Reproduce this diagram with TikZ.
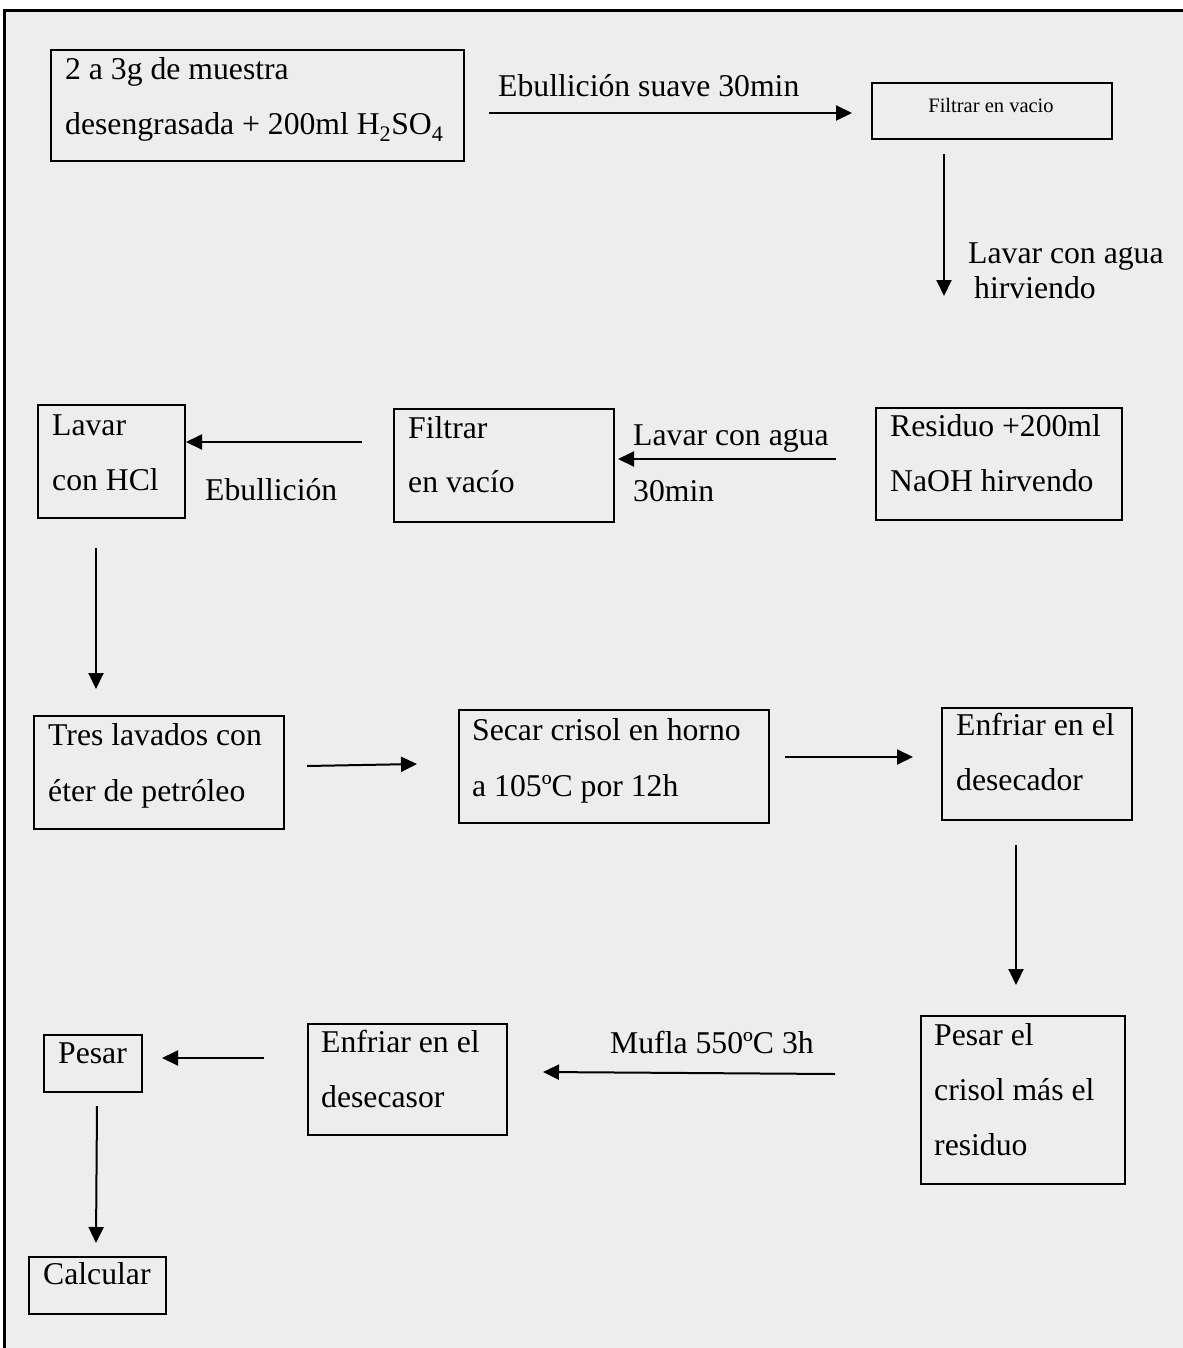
\documentclass[tikz,border=0pt]{standalone}
\usepackage{fontspec}
\setmainfont{Liberation Serif}
\usetikzlibrary{arrows.meta}
\definecolor{bg}{HTML}{EDEDED}
\tikzset{
  boxnode/.style={draw=black, line width=2pt, inner sep=0pt, anchor=north west},
  txt/.style={inner sep=0pt, anchor=base west, font=\fontsize{31.7}{38}\selectfont},
  smalltxt/.style={inner sep=0pt, anchor=base, font=\fontsize{20.5}{24}\selectfont},
  arr/.style={line width=2pt, -{Triangle[length=16pt,width=15pt]}}
}
\begin{document}
\begin{tikzpicture}[x=1pt,y=-1pt]
\useasboundingbox (0,0) rectangle (1182.8,1348);
\fill[white] (0,0) rectangle (1190,1348);
% frame (right and bottom edges lie outside the picture)
\fill[bg] (4.5,10.8) rectangle (1190,1348);
\draw[black, line width=2.8pt] (4.5,1348) -- (4.5,10.8) -- (1190,10.8);

% boxes
\node[boxnode, minimum width=413pt, minimum height=111pt] (b1) at (50,49) {};
\node[txt] (b1t1) at (65,80) {2 a 3g de muestra};
\node[txt] (b1t2) at (65,135) {desengrasada + 200ml H\textsubscript{2}SO\textsubscript{4}};

\node[boxnode, minimum width=240pt, minimum height=56pt] (b2) at (871,82) {};
\node[smalltxt] (b2t) at (991,113) {Filtrar en vacio};

\node[boxnode, minimum width=246pt, minimum height=112pt] (b3) at (875,407) {};
\node[txt] (b3t1) at (890,436) {Residuo +200ml};
\node[txt] (b3t2) at (890,491) {NaOH hirvendo};

\node[boxnode, minimum width=220pt, minimum height=113pt] (b4) at (393,408) {};
\node[txt] (b4t1) at (408,438) {Filtrar};
\node[txt] (b4t2) at (408,492) {en vacío};

\node[boxnode, minimum width=147pt, minimum height=113pt] (b5) at (37,404) {};
\node[txt] (b5t1) at (52,435) {Lavar};
\node[txt] (b5t2) at (52,490) {con HCl};

\node[boxnode, minimum width=250pt, minimum height=113pt] (b6) at (33,715) {};
\node[txt] (b6t1) at (48,745) {Tres lavados con};
\node[txt] (b6t2) at (48,801) {éter de petróleo};

\node[boxnode, minimum width=310pt, minimum height=113pt] (b7) at (458,709) {};
\node[txt] (b7t1) at (472,740) {Secar crisol en horno};
\node[txt] (b7t2) at (472,796) {a 105ºC por 12h};

\node[boxnode, minimum width=190pt, minimum height=112pt] (b8) at (941,707) {};
\node[txt] (b8t1) at (956,735) {Enfriar en el};
\node[txt] (b8t2) at (956,790) {desecador};

\node[boxnode, minimum width=204pt, minimum height=168pt] (b9) at (920,1015) {};
\node[txt] (b9t1) at (934,1045) {Pesar el};
\node[txt] (b9t2) at (934,1100) {crisol más el};
\node[txt] (b9t3) at (934,1155) {residuo};

\node[boxnode, minimum width=199pt, minimum height=111pt] (b10) at (307,1023) {};
\node[txt] (b10t1) at (321,1052) {Enfriar en el};
\node[txt] (b10t2) at (321,1107) {desecasor};

\node[boxnode, minimum width=98pt, minimum height=57pt] (b11) at (43,1034) {};
\node[txt] (b11t) at (58,1063) {Pesar};

\node[boxnode, minimum width=137pt, minimum height=57pt] (b12) at (28,1256) {};
\node[txt] (b12t) at (43,1284) {Calcular};

% connector labels
\node[txt] (l1) at (498,97) {Ebullición suave 30min};
\node[txt] (l2a) at (968,263) {Lavar con agua};
\node[txt] (l2b) at (974,298) {hirviendo};
\node[txt] (l3a) at (633,445) {Lavar con agua};
\node[txt] (l3b) at (633,501) {30min};
\node[txt] (l4) at (205,500) {Ebullición};
\node[txt] (l5) at (610,1053) {Mufla 550ºC 3h};

% arrow end points
\coordinate (a1s) at (489,113);  \coordinate (a1e) at (852,113);
\coordinate (a2s) at (944,154);  \coordinate (a2e) at (944,296);
\coordinate (a3s) at (836,459);  \coordinate (a3e) at (618,459);
\coordinate (a4s) at (362,442);  \coordinate (a4e) at (186,442);
\coordinate (a5s) at (96,548);   \coordinate (a5e) at (96,689);
\coordinate (a6s) at (307,766);  \coordinate (a6e) at (417,764);
\coordinate (a7s) at (785,757);  \coordinate (a7e) at (913,757);
\coordinate (a8s) at (1016,845); \coordinate (a8e) at (1016,985);
\coordinate (a9s) at (835,1074); \coordinate (a9e) at (543,1072);
\coordinate (a10s) at (264,1058); \coordinate (a10e) at (162,1058);
\coordinate (a11s) at (97,1106); \coordinate (a11e) at (96,1243);

\draw[arr] (a1s) -- (a1e);
\draw[arr] (a2s) -- (a2e);
\draw[arr] (a3s) -- (a3e);
\draw[arr] (a4s) -- (a4e);
\draw[arr] (a5s) -- (a5e);
\draw[arr] (a6s) -- (a6e);
\draw[arr] (a7s) -- (a7e);
\draw[arr] (a8s) -- (a8e);
\draw[arr] (a9s) -- (a9e);
\draw[arr] (a10s) -- (a10e);
\draw[arr] (a11s) -- (a11e);
\end{tikzpicture}
\end{document}
